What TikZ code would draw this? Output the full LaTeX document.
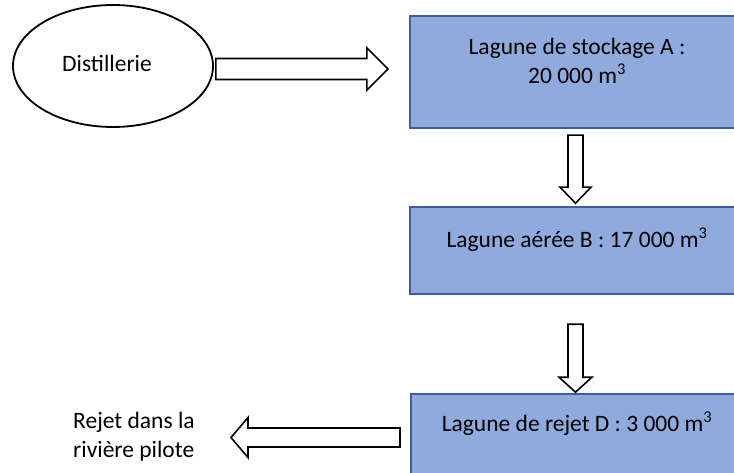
\documentclass[tikz,border=0pt]{standalone}
\usepackage{fontspec}
\setmainfont{Carlito}
\usetikzlibrary{shapes.geometric,calc}
\definecolor{boxfill}{HTML}{8FAADC}
\definecolor{boxline}{HTML}{3A5E9E}
\newcommand{\cubem}{m\textsuperscript{3}}
\tikzset{
  lagoon/.style={draw=boxline, line width=2.2pt, fill=boxfill, rectangle, inner sep=0pt, anchor=north west},
  lbl/.style={font=\fontsize{23.5}{28.7}\selectfont, inner sep=0pt, align=center, text=black},
  blockarrow/.style={draw=black, line width=1.6pt, fill=white, line join=miter},
}
\begin{document}
\begin{tikzpicture}[x=1pt,y=-1pt]
\useasboundingbox (0,0) rectangle (734,473);
\clip (0,0) rectangle (734,473);
% source
\node[ellipse, draw=black, line width=1.8pt, minimum width=200pt, minimum height=122pt, inner sep=0pt] (dist) at (113,66) {};
\node[lbl] (distlbl) at (107,63) {Distillerie};
% lagoons
\node[lagoon, minimum width=340pt, minimum height=112pt] (A) at (409,15) {};
\node[lbl] (Albl) at (577,61) {Lagune de stockage A :\\20 000 \cubem};
\node[lagoon, minimum width=340pt, minimum height=87pt] (B) at (409,206) {};
\node[lbl] (Blbl) at (577,240) {Lagune aérée B : 17 000 \cubem};
\node[lagoon, minimum width=340pt, minimum height=100pt] (D) at (410,393) {};
\node[lbl] (Dlbl) at (577,424) {Lagune de rejet D : 3 000 \cubem};
\node[lbl, align=left, anchor=west] (riv) at (73,437) {Rejet dans la\\rivière pilote};
% block arrows
\coordinate (r0) at ($(dist.east)+(2,3)$);
\draw[blockarrow] (r0) ++(0,-10.5) -- ++(151,0) -- ++(0,-10.5) -- ++(21,21) -- ++(-21,21) -- ++(0,-10.5) -- ++(-151,0) -- cycle;
\coordinate (d1) at ($(A.south west)+(166.5,6)$);
\draw[blockarrow] (d1) ++(-7.5,0) -- ++(0,52) -- ++(-8,0) -- ++(15.5,16) -- ++(15.5,-16) -- ++(-8,0) -- ++(0,-52) -- cycle;
\coordinate (d2) at ($(B.south west)+(166.5,29)$);
\draw[blockarrow] (d2) ++(-7.5,0) -- ++(0,53) -- ++(-9,0) -- ++(16.5,15) -- ++(16.5,-15) -- ++(-9,0) -- ++(0,-53) -- cycle;
\coordinate (l0) at ($(D.north west)+(-10,44.5)$);
\draw[blockarrow] (l0) ++(0,-9.5) -- ++(-152,0) -- ++(0,-10.5) -- ++(-17,20) -- ++(17,20) -- ++(0,-10.5) -- ++(152,0) -- cycle;
\end{tikzpicture}
\end{document}
